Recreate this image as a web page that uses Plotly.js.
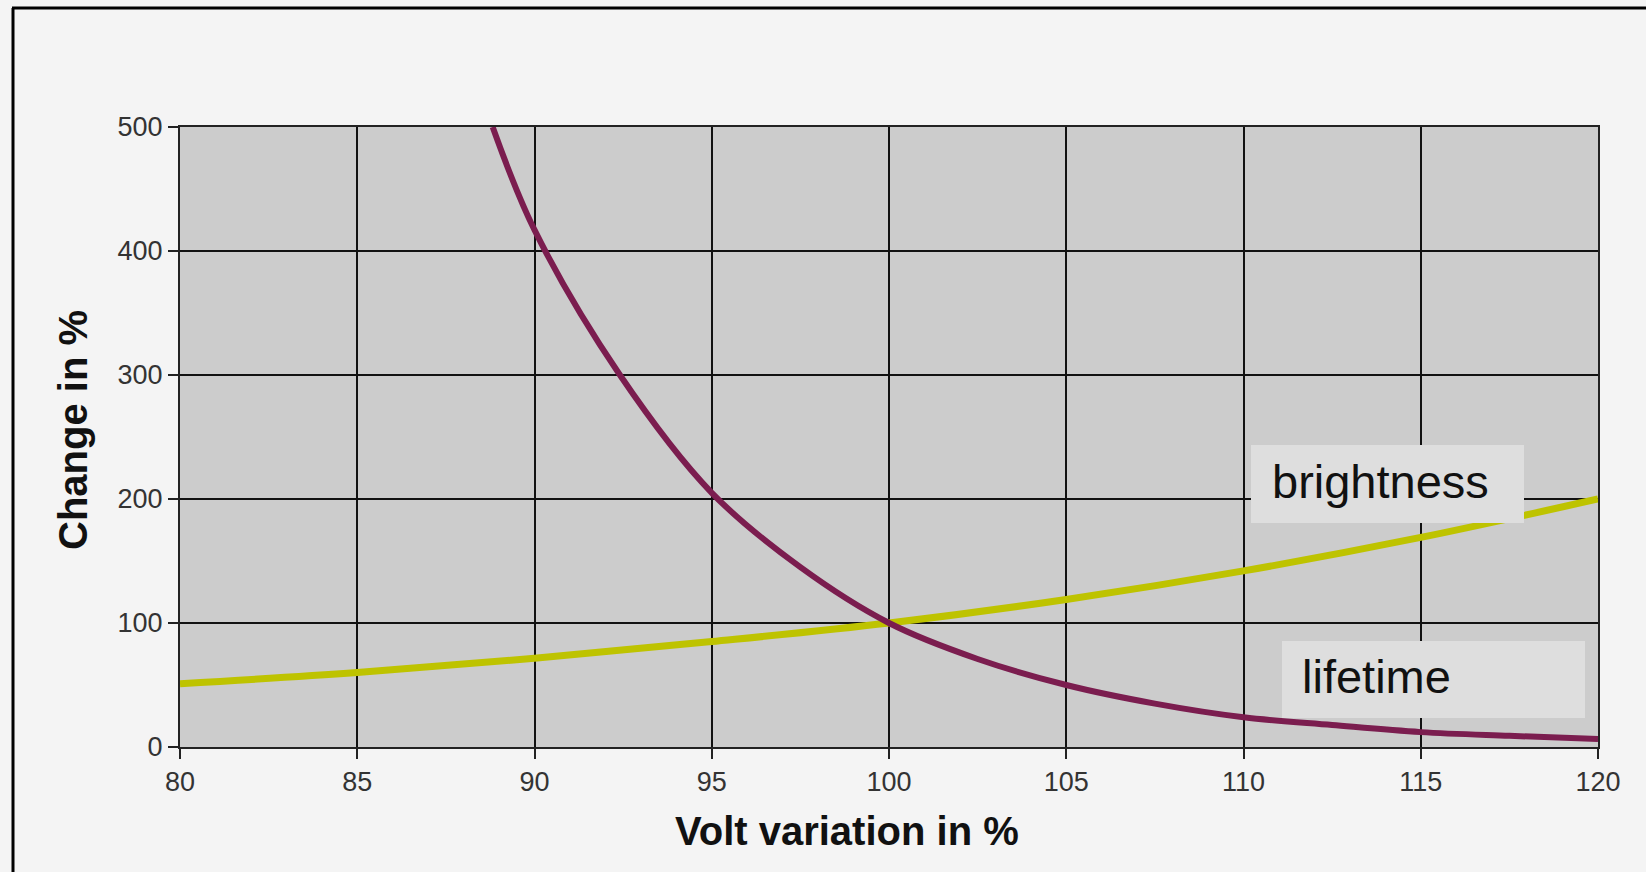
<!DOCTYPE html>
<html>
<head>
<meta charset="utf-8">
<script src="https://cdn.plot.ly/plotly-3.0.1.min.js"></script>
<style>
  html, body { margin: 0; padding: 0; background: #f4f4f4; }
  #chart { width: 1646px; height: 872px; }
</style>
</head>
<body>
<div id="chart"></div>
<script>
// ---- data ----
const voltageBrightness = [80, 85, 90, 95, 100, 105, 110, 115, 120];
const brightness        = [51, 60, 71.5, 85, 100, 119, 142, 169, 200];

const voltageLifetime = [88.82, 90, 92.41, 95, 97.5, 100, 102.5, 105, 107.5, 110, 112.5, 115, 117.5, 120];
const lifetime        = [500, 417, 300, 205, 145, 100, 71, 50, 35, 24, 17.7, 12, 9, 6.5];

const xTicks = [80, 85, 90, 95, 100, 105, 110, 115, 120];
const yTicks = [0, 100, 200, 300, 400, 500];

const seriesLabels = ["brightness", "lifetime"];
const xTitle = "Volt variation in %";
const yTitle = "Change in %";

// ---- layout helpers (pixel -> paper) ----
const W = 1646, H = 872;
const L = 180, R = 48, T = 127, B = 125;
const PW = W - L - R, PH = H - T - B;
const px = x => (x - L) / PW;
const py = y => (H - B - y) / PH;

const traces = [
  {
    x: voltageBrightness, y: brightness, type: "scatter", mode: "lines",
    name: seriesLabels[0],
    line: { color: "#bec300", width: 7, shape: "spline", smoothing: 1 },
    hoverinfo: "skip"
  },
  {
    x: voltageLifetime, y: lifetime, type: "scatter", mode: "lines",
    name: seriesLabels[1],
    line: { color: "#7b1d4f", width: 6, shape: "spline", smoothing: 1 },
    hoverinfo: "skip"
  }
];

const tickFont = { family: "Liberation Sans, Arial, sans-serif", size: 27, color: "#333333" };
const titleFont = { family: "Liberation Sans, Arial, sans-serif", size: 40, color: "#111111", weight: "bold" };
const labelFont = { family: "Liberation Sans, Arial, sans-serif", size: 47, color: "#111111" };

const layout = {
  width: W, height: H, autosize: false,
  margin: { l: L, r: R, t: T, b: B, pad: 0 },
  paper_bgcolor: "#f4f4f4",
  plot_bgcolor: "#cccccc",
  showlegend: false,
  xaxis: {
    range: [80, 120], tickvals: xTicks, ticktext: xTicks.map(String),
    showgrid: true, gridcolor: "#111111", gridwidth: 2,
    showline: true, linecolor: "#222222", linewidth: 2, mirror: true,
    ticks: "outside", ticklen: 10, tickwidth: 2, tickcolor: "#222222",
    tickfont: tickFont, zeroline: false, fixedrange: true
  },
  yaxis: {
    range: [0, 500], tickvals: yTicks, ticktext: yTicks.map(String),
    showgrid: true, gridcolor: "#111111", gridwidth: 2,
    showline: true, linecolor: "#222222", linewidth: 2, mirror: true,
    ticks: "outside", ticklen: 10, tickwidth: 2, tickcolor: "#222222",
    tickfont: tickFont, zeroline: false, fixedrange: true
  },
  shapes: [
    // outer frame (left and top edges visible)
    { type: "line", xref: "paper", yref: "paper", x0: px(13), x1: px(13), y0: py(H + 5), y1: py(8),
      line: { color: "#000000", width: 3 } },
    { type: "line", xref: "paper", yref: "paper", x0: px(12), x1: px(W + 5), y0: py(8), y1: py(8),
      line: { color: "#000000", width: 3 } },
    // label boxes
    { type: "rect", xref: "paper", yref: "paper", layer: "above",
      x0: px(1251), x1: px(1524), y0: py(523), y1: py(445),
      fillcolor: "#dedede", line: { width: 0 } },
    { type: "rect", xref: "paper", yref: "paper", layer: "above",
      x0: px(1282), x1: px(1585), y0: py(718), y1: py(641),
      fillcolor: "#dedede", line: { width: 0 } }
  ],
  annotations: [
    { text: seriesLabels[0], xref: "paper", yref: "paper", x: px(1270), y: py(481),
      xanchor: "left", yanchor: "middle", showarrow: false, font: labelFont },
    { text: seriesLabels[1], xref: "paper", yref: "paper", x: px(1300), y: py(676),
      xanchor: "left", yanchor: "middle", showarrow: false, font: labelFont },
    { text: "<b>" + xTitle + "</b>", xref: "paper", yref: "paper", x: px(847), y: py(831),
      xanchor: "center", yanchor: "middle", showarrow: false, font: titleFont },
    { text: "<b>" + yTitle + "</b>", xref: "paper", yref: "paper", x: px(73), y: py(430),
      xanchor: "center", yanchor: "middle", showarrow: false, textangle: -90, font: titleFont }
  ]
};

Plotly.newPlot("chart", traces, layout, { staticPlot: true, displayModeBar: false });
</script>
</body>
</html>
